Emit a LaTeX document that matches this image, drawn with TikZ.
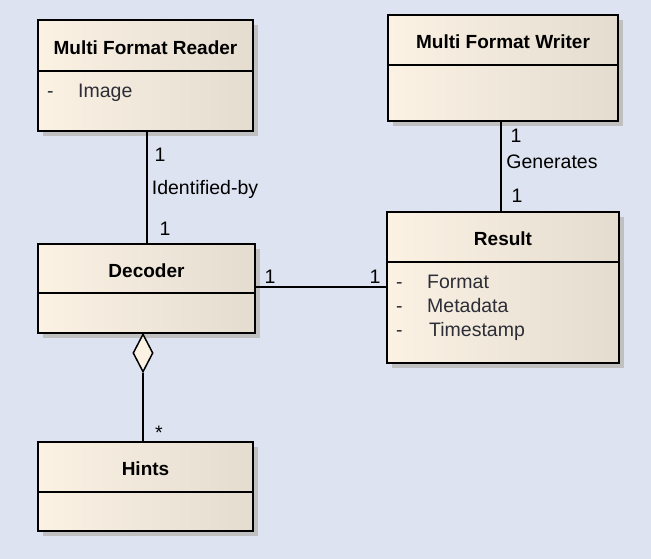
\documentclass[tikz,border=0pt]{standalone}
\usepackage{fontspec}
\setmainfont{Liberation Sans}
\definecolor{bgblue}{RGB}{222, 227, 241}
\definecolor{creamL}{RGB}{251, 242, 228}
\definecolor{creamR}{RGB}{228, 220, 207}
\definecolor{shadowgray}{RGB}{192, 192, 192}
\definecolor{attrgray}{RGB}{45, 45, 55}
\usetikzlibrary{shapes, arrows.meta, positioning, calc, shadows}

\begin{document}
\begin{tikzpicture}[x=1pt, y=-1pt,
  classbox/.style={draw, line width=1.5pt, left color=creamL, right color=creamR, inner sep=0pt, outer sep=0pt,
    drop shadow={shadow xshift=5pt, shadow yshift=-5pt, fill=shadowgray, opacity=1}},
  classtitle/.style={font=\fontsize{19}{23}\selectfont\bfseries, inner sep=0pt},
  attr/.style={font=\fontsize{19.5}{23}\selectfont, text=attrgray, anchor=west, inner sep=0pt},
  mult/.style={font=\fontsize{19.5}{23}\selectfont, inner sep=0pt},
  connector/.style={line width=1.5pt},
  aggdiamond/.style={draw, diamond, line width=1.5pt, fill=creamL, inner sep=0pt, minimum width=20pt, minimum height=38pt}
]
  \useasboundingbox[fill=bgblue] (0,0) rectangle (651,559);

  % classes
  \node[classbox, minimum width=215pt, minimum height=111pt] (reader) at (145.5,75.5) {};
  \node[classtitle] (readerTitle) at ($(reader.north)+(0,28)$) {Multi Format Reader};
  \draw[connector] ($(reader.north west)+(0,51)$) -- ($(reader.north east)+(0,51)$);
  \node[attr] (readerImage) at (47,93) {\makebox[31pt][l]{-}Image};

  \node[classbox, minimum width=230pt, minimum height=106pt] (writer) at (503,68) {};
  \node[classtitle] (writerTitle) at ($(writer.north)+(0,27)$) {Multi Format Writer};
  \draw[connector] ($(writer.north west)+(0,50)$) -- ($(writer.north east)+(0,50)$);

  \node[classbox, minimum width=217pt, minimum height=89pt] (decoder) at (146.5,288.5) {};
  \node[classtitle] (decoderTitle) at ($(decoder.north)+(0,27)$) {Decoder};
  \draw[connector] ($(decoder.north west)+(0,49)$) -- ($(decoder.north east)+(0,49)$);

  \node[classbox, minimum width=232pt, minimum height=151pt] (result) at (503,287.5) {};
  \node[classtitle] (resultTitle) at ($(result.north)+(0,27)$) {Result};
  \draw[connector] ($(result.north west)+(0,50)$) -- ($(result.north east)+(0,50)$);
  \node[attr] (resultFormat) at (396,282) {\makebox[31pt][l]{-}Format};
  \node[attr] (resultMeta) at (396,306) {\makebox[31pt][l]{-}Metadata};
  \node[attr] (resultTime) at (396,331) {\makebox[33pt][l]{-}Timestamp};

  \node[classbox, minimum width=215pt, minimum height=89pt] (hints) at (145.5,486.5) {};
  \node[classtitle] (hintsTitle) at ($(hints.north)+(0,27)$) {Hints};
  \draw[connector] ($(hints.north west)+(0,50)$) -- ($(hints.north east)+(0,50)$);

  % associations
  \draw[connector] ([xshift=1.5pt]reader.south) -- ([xshift=1.5pt]reader.south |- decoder.north);
  \node[mult] (rdOne) at (160,155) {1};
  \node[mult] (rdLabel) at (205,189) {Identified-by};
  \node[mult] (rdTwo) at (165,229) {1};

  \draw[connector] ([xshift=-2pt]writer.south) -- ([xshift=-2pt]writer.south |- result.north);
  \node[mult] (wrOne) at (516,136) {1};
  \node[mult] (wrLabel) at (552,162) {Generates};
  \node[mult] (wrTwo) at (517,196) {1};

  \draw[connector] ([yshift=1.5pt]decoder.east) -- ([yshift=1.5pt]decoder.east -| result.west);
  \node[mult] (drOne) at (270,277) {1};
  \node[mult] (drTwo) at (375,277) {1};

  \node[aggdiamond] (decAgg) at (143,353) {};
  \draw[connector] (decAgg.south) -- (decAgg.south |- hints.north);
  \node[mult] (dhMany) at (159,433) {*};
\end{tikzpicture}
\end{document}
